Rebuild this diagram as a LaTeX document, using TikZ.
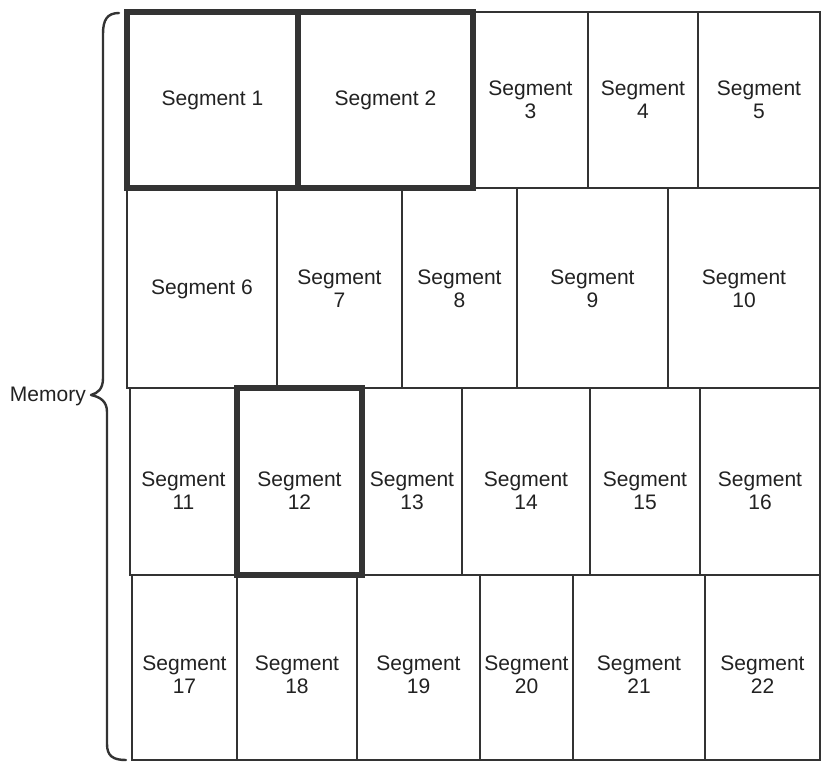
\documentclass[tikz,border=0pt]{standalone}
\usepackage{fontspec}
\setmainfont{Liberation Sans}
\begin{document}
\begin{tikzpicture}[x=1pt,y=-1pt,
  segbox/.style={draw=linegray, line width=2.2pt, inner sep=0pt, outer sep=0pt},
  thickbox/.style={draw=linegray, line width=5.5pt, inner sep=0pt, outer sep=0pt},
  segtext/.style={text=textgray, align=center, font=\fontsize{21pt}{23pt}\selectfont, inner sep=0pt},
  brace/.style={draw=linegray, line width=2.4pt, line cap=round, line join=round}]
\definecolor{linegray}{HTML}{333333}
\definecolor{textgray}{HTML}{222222}
\useasboundingbox[fill=white] (0,0) rectangle (825,763);
\newcommand{\seg}[8]{%
  \pgfmathsetmacro{\segw}{#4-#2}\pgfmathsetmacro{\segh}{#5-#3}%
  \node[#8, minimum width=\segw pt, minimum height=\segh pt] (#1) at ({(#2+#4)/2},{(#3+#5)/2}) {};
  \node[segtext] (#1t) at ([yshift=#7]#1.center) {#6};}
% row 1
\seg{s3}{473}{12}{588}{188}{Segment\\3}{0pt}{segbox}
\seg{s4}{588}{12}{698}{188}{Segment\\4}{0pt}{segbox}
\seg{s5}{698}{12}{820}{188}{Segment\\5}{0pt}{segbox}
% row 2
\seg{s6}{127}{188}{277}{388}{Segment 6}{-1pt}{segbox}
\seg{s7}{277}{188}{402}{388}{Segment\\7}{-1pt}{segbox}
\seg{s8}{402}{188}{517}{388}{Segment\\8}{-1pt}{segbox}
\seg{s9}{517}{188}{668}{388}{Segment\\9}{-1pt}{segbox}
\seg{s10}{668}{188}{820}{388}{Segment\\10}{-1pt}{segbox}
% row 3
\seg{s11}{130}{388}{237}{575}{Segment\\11}{-9pt}{segbox}
\seg{s13}{362}{388}{462}{575}{Segment\\13}{-9pt}{segbox}
\seg{s14}{462}{388}{590}{575}{Segment\\14}{-9pt}{segbox}
\seg{s15}{590}{388}{700}{575}{Segment\\15}{-9pt}{segbox}
\seg{s16}{700}{388}{820}{575}{Segment\\16}{-9pt}{segbox}
% row 4
\seg{s17}{132}{575}{237}{760}{Segment\\17}{-7pt}{segbox}
\seg{s18}{237}{575}{357}{760}{Segment\\18}{-7pt}{segbox}
\seg{s19}{357}{575}{480}{760}{Segment\\19}{-7pt}{segbox}
\seg{s20}{480}{575}{573}{760}{Segment\\20}{-7pt}{segbox}
\seg{s21}{573}{575}{705}{760}{Segment\\21}{-7pt}{segbox}
\seg{s22}{705}{575}{820}{760}{Segment\\22}{-7pt}{segbox}
% thick boxes
\seg{s1}{127}{12}{298}{188}{Segment 1}{0pt}{thickbox}
\seg{s2}{298}{12}{473}{188}{Segment 2}{0pt}{thickbox}
\seg{s12}{237}{388}{362}{575}{Segment\\12}{-9pt}{thickbox}
% brace
\coordinate (btop) at (119,13);
\coordinate (bbot) at (126,760);
\coordinate (btip) at (91,395);
\draw[brace] (btop) .. controls (107,13) and (103,20) .. (103,34)
  -- (103,378) .. controls (103,389) and (98,393) .. (btip)
  .. controls (100,397) and (107,401) .. (107,412)
  -- (107,744) .. controls (107,756) and (113,760) .. (bbot);
\node[segtext, anchor=east] (mem) at ([xshift=-5pt,yshift=-1pt]btip) {Memory};
\end{tikzpicture}
\end{document}
